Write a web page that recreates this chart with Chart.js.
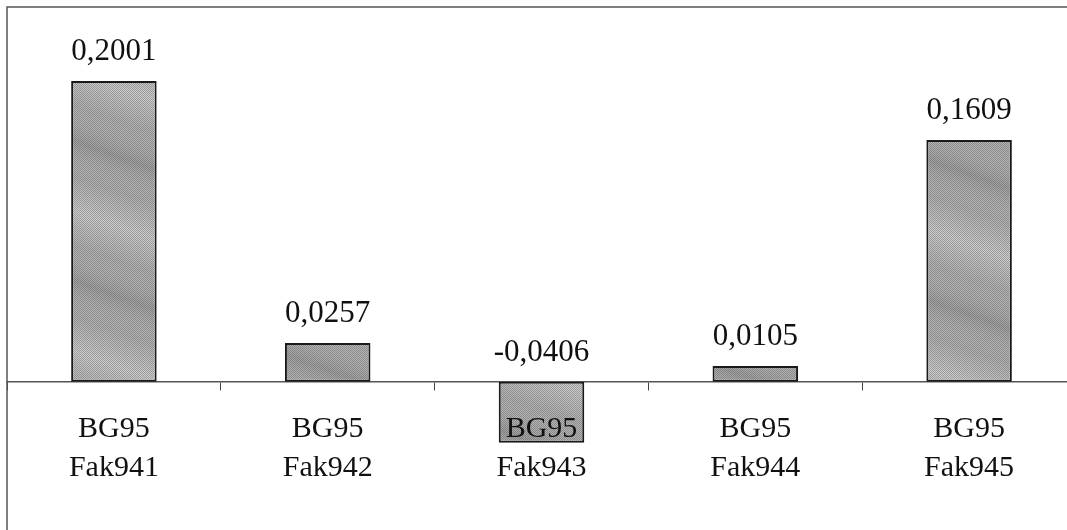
<!DOCTYPE html>
<html>
<head>
<meta charset="utf-8">
<script src="https://cdn.jsdelivr.net/npm/chart.js@4"></script>
<style>
  html, body { margin: 0; padding: 0; background: #fff; overflow: hidden; }
  #wrap { position: relative; width: 1076px; height: 532px; }
</style>
</head>
<body>
<div id="wrap"><canvas id="faktorChart"></canvas></div>
<script>
// data dari gambar
const kategori = [['BG95', 'Fak941'], ['BG95', 'Fak942'], ['BG95', 'Fak943'], ['BG95', 'Fak944'], ['BG95', 'Fak945']];
const nilai = [0.2001, 0.0257, -0.0406, 0.0105, 0.1609];
const batasY = [-0.1, 0.25];

// tekstur abu-abu untuk batang (selebar kanvas supaya tidak ada sambungan)
function buatPola() {
    const c = document.createElement('canvas');
    c.width = 1080; c.height = 540;
    const g = c.getContext('2d');
    g.fillStyle = '#b2b2b2';
    g.fillRect(0, 0, c.width, c.height);
    // garis-garis terang miring
    for (let k = 0; k < 14; k++) {
        const y0 = k * 70 - 200;
        const grad = g.createLinearGradient(0, y0, 0, y0 + 70);
        grad.addColorStop(0, 'rgba(255,255,255,0)');
        grad.addColorStop(0.5, k % 2 ? 'rgba(255,255,255,0.35)' : 'rgba(90,90,90,0.2)');
        grad.addColorStop(1, 'rgba(255,255,255,0)');
        g.save();
        g.transform(1, 0.35, 0, 1, 0, 0);
        g.fillStyle = grad;
        g.fillRect(0, y0, c.width, 70);
        g.restore();
    }
    // efek dither
    g.fillStyle = 'rgba(50,50,50,0.3)';
    for (let y = 0; y < c.height; y++) {
        for (let x = (y % 2); x < c.width; x += 2) {
            g.fillRect(x, y, 1, 1);
        }
    }
    return g.createPattern(c, 'no-repeat');
}

// label nilai di atas batang
const labelNilai = {
    id: 'labelNilai',
    afterDatasetsDraw(chart) {
        const ctx = chart.ctx;
        const yScale = chart.scales.y;
        const meta = chart.getDatasetMeta(0);
        ctx.save();
        ctx.font = '31px "Liberation Serif", "Times New Roman", serif';
        ctx.fillStyle = '#111';
        ctx.textAlign = 'center';
        ctx.textBaseline = 'alphabetic';
        meta.data.forEach((bar, i) => {
            const v = nilai[i];
            const y = yScale.getPixelForValue(Math.max(v, 0)) - 21;
            ctx.fillText(v.toFixed(4).replace('.', ','), bar.x, y);
        });
        ctx.restore();
    }
};

// bingkai kiri dan atas
const bingkai = {
    id: 'bingkai',
    afterDraw(chart) {
        const a = chart.chartArea;
        const ctx = chart.ctx;
        ctx.save();
        ctx.strokeStyle = '#555';
        ctx.lineWidth = 1.5;
        ctx.beginPath();
        ctx.moveTo(7, a.bottom);
        ctx.lineTo(7, 7);
        ctx.lineTo(a.right, 7);
        ctx.stroke();
        ctx.restore();
    }
};

const ctx = document.getElementById('faktorChart').getContext('2d');
const faktorChart = new Chart(ctx, {
    type: 'bar',
    data: {
        labels: kategori,
        datasets: [{
            data: nilai,
            backgroundColor: buatPola(),
            borderColor: '#1a1a1a',
            borderWidth: 2,
            borderSkipped: false,
            barPercentage: 0.4,
            categoryPercentage: 1.0
        }]
    },
    options: {
        responsive: true,
        maintainAspectRatio: false,
        animation: false,
        layout: { padding: { left: 7, top: 6, right: 0, bottom: 0 } },
        plugins: {
            legend: { display: false },
            tooltip: { enabled: false }
        },
        scales: {
            x: {
                position: { y: 0 },
                offset: true,
                grid: {
                    display: true,
                    drawOnChartArea: false,
                    drawTicks: true,
                    tickLength: 8,
                    color: '#444',
                    lineWidth: 1
                },
                border: { display: true, color: '#555', width: 1.5 },
                ticks: {
                    z: 1,
                    color: '#111',
                    padding: 20,
                    maxRotation: 0,
                    autoSkip: false,
                    font: { family: '"Liberation Serif", "Times New Roman", serif', size: 30, lineHeight: 1.3 }
                }
            },
            y: {
                display: false,
                min: batasY[0],
                max: batasY[1]
            }
        }
    },
    plugins: [labelNilai, bingkai]
});
</script>
</body>
</html>
